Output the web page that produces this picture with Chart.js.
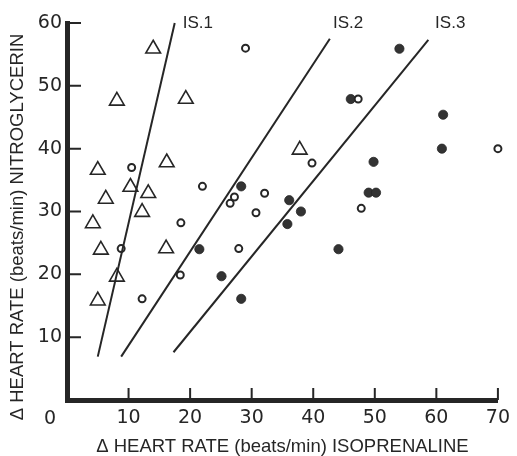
<!DOCTYPE html>
<html>
<head>
<meta charset="utf-8">
<title>Heart rate</title>
<script src="https://cdn.jsdelivr.net/npm/chart.js@4.4.0/dist/chart.umd.min.js"></script>
<style>
  body { margin: 0; background: #fff; }
</style>
</head>
<body>
<canvas id="heartChart" width="517" height="456"></canvas>
<script>
// open triangles
const triX = [14.0, 8.1, 19.3, 5.0, 16.2, 6.3, 10.3, 13.2, 12.2, 4.2, 5.5, 16.1, 8.1, 5.0, 37.8];
const triY = [55.9, 47.6, 47.9, 36.6, 37.8, 32.0, 33.9, 32.9, 29.9, 28.1, 23.9, 24.1, 19.6, 15.8, 39.8];

// open circles
const openX = [29.0, 10.5, 22.0, 26.5, 27.2, 30.7, 18.5, 47.3, 39.8, 32.1, 47.8, 70.0, 8.8, 18.4, 12.2, 27.9];
const openY = [56.0, 37.0, 34.0, 31.3, 32.3, 29.8, 28.2, 47.9, 37.7, 32.9, 30.5, 40.0, 24.1, 19.9, 16.1, 24.1];

// filled circles
const fillX = [54.0, 46.1, 61.1, 60.9, 49.8, 49.0, 50.2, 36.1, 38.0, 35.8, 28.3, 21.5, 25.1, 28.3, 44.1];
const fillY = [55.9, 47.9, 45.4, 40.0, 37.9, 33.0, 33.0, 31.8, 30.0, 28.0, 34.0, 24.0, 19.7, 16.1, 24.0];

// regression lines, start and end
const lineNames = ['IS.1', 'IS.2', 'IS.3'];
const lineX1 = [5.0, 8.8, 17.3];
const lineY1 = [6.9, 6.9, 7.6];
const lineX2 = [17.5, 42.7, 58.7];
const lineY2 = [60.0, 57.5, 57.3];
const lineLabelX = [18.8, 43.2, 59.8];
const lineLabelY = [59.9, 59.9, 59.9];

const xTicks = [10, 20, 30, 40, 50, 60, 70];
const yTicks = [10, 20, 30, 40, 50, 60];

const ink = '#262626';

function pts(xs, ys) {
    return xs.map(function(x, i) { return { x: x, y: ys[i] }; });
}

var datasets = [];
for (var i = 0; i < lineNames.length; i++) {
    datasets.push({
        label: lineNames[i],
        data: [{ x: lineX1[i], y: lineY1[i] }, { x: lineX2[i], y: lineY2[i] }],
        showLine: true,
        borderColor: ink,
        borderWidth: 2,
        pointRadius: 0,
        clip: false
    });
}
datasets.push({
    label: 'triangles',
    data: pts(triX, triY),
    pointStyle: 'triangle',
    pointRadius: 8.5,
    borderWidth: 1.6,
    borderColor: ink,
    backgroundColor: 'rgba(0,0,0,0)',
    clip: false
});
datasets.push({
    label: 'open',
    data: pts(openX, openY),
    pointStyle: 'circle',
    pointRadius: 3.5,
    borderWidth: 2,
    borderColor: ink,
    backgroundColor: '#fff',
    clip: false
});
datasets.push({
    label: 'filled',
    data: pts(fillX, fillY),
    pointStyle: 'circle',
    pointRadius: 4.6,
    borderWidth: 0.8,
    borderColor: ink,
    backgroundColor: '#333',
    clip: false
});

// inward tick marks, origin label, line labels and y title
const extras = {
    id: 'extras',
    afterDatasetsDraw: function(chart) {
        const c = chart.ctx;
        const xs = chart.scales.x;
        const ys = chart.scales.y;
        const area = chart.chartArea;
        c.save();
        c.strokeStyle = ink;
        c.lineWidth = 2;
        c.beginPath();
        xTicks.forEach(function(v) {
            var px = xs.getPixelForValue(v);
            c.moveTo(px, area.bottom);
            c.lineTo(px, area.bottom - 12);
        });
        yTicks.forEach(function(v) {
            var py = ys.getPixelForValue(v);
            c.moveTo(area.left, py);
            c.lineTo(area.left + 14, py);
        });
        c.stroke();

        c.fillStyle = ink;
        c.font = '19px "DejaVu Sans"';
        c.textAlign = 'center';
        c.textBaseline = 'middle';
        c.fillText('0', xs.getPixelForValue(0) - 17, area.bottom + 19);

        c.font = '17px "Liberation Sans"';
        c.textAlign = 'left';
        for (var i = 0; i < lineNames.length; i++) {
            c.fillText(lineNames[i], xs.getPixelForValue(lineLabelX[i]), ys.getPixelForValue(lineLabelY[i]));
        }

        c.font = '18.5px "Liberation Sans"';
        c.textAlign = 'center';
        c.translate(18, 227);
        c.rotate(-Math.PI / 2);
        c.fillText('\u0394 HEART RATE (beats/min) NITROGLYCERIN', 0, 0);
        c.restore();
    }
};

const ctx = document.getElementById('heartChart').getContext('2d');
const heartChart = new Chart(ctx, {
    type: 'scatter',
    data: { datasets: datasets },
    plugins: [extras],
    options: {
        responsive: false,
        animation: false,
        layout: { padding: { top: 23, right: 13, left: 0, bottom: 0 } },
        plugins: {
            legend: { display: false },
            tooltip: { enabled: false }
        },
        scales: {
            x: {
                type: 'linear',
                min: 0,
                max: 70,
                afterFit: function(scale) { scale.height = 56; },
                afterBuildTicks: function(scale) {
                    scale.ticks = xTicks.map(function(v) { return { value: v }; });
                },
                grid: { display: false, drawTicks: false },
                border: { display: true, width: 5, color: ink },
                ticks: {
                    padding: 7,
                    color: ink,
                    font: { family: 'DejaVu Sans', size: 19 }
                },
                title: {
                    display: true,
                    text: '\u0394 HEART RATE (beats/min) ISOPRENALINE',
                    color: ink,
                    padding: 0,
                    font: { family: 'Liberation Sans', size: 18.5, lineHeight: 1 }
                }
            },
            y: {
                type: 'linear',
                min: 0,
                max: 60,
                afterFit: function(scale) { scale.width = 67; },
                afterBuildTicks: function(scale) {
                    scale.ticks = yTicks.map(function(v) { return { value: v }; });
                },
                grid: { display: false, drawTicks: false },
                border: { display: true, width: 5, color: ink },
                ticks: {
                    padding: 5,
                    color: ink,
                    font: { family: 'DejaVu Sans', size: 19 }
                }
            }
        }
    }
});
</script>
</body>
</html>
